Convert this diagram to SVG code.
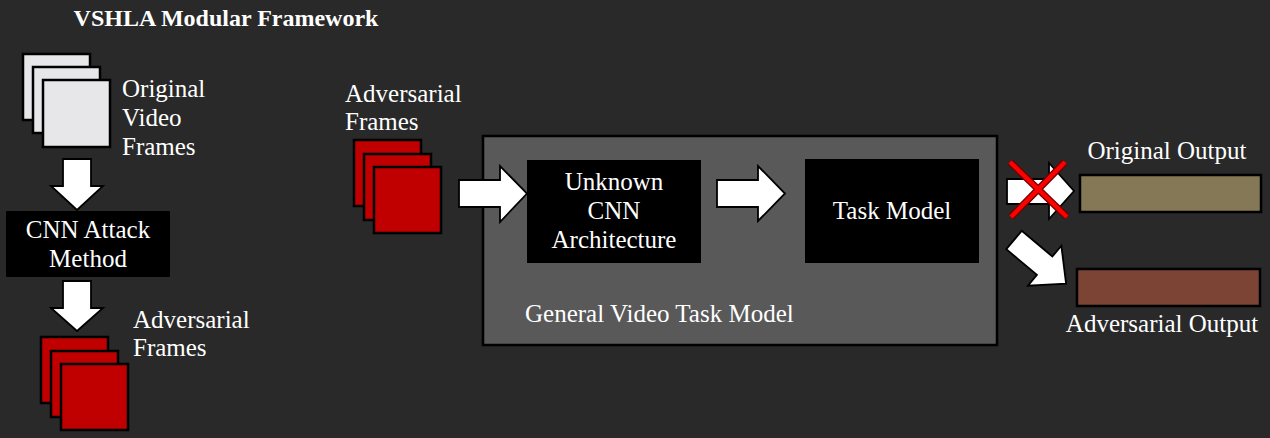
<svg xmlns="http://www.w3.org/2000/svg" width="1270" height="438" viewBox="0 0 1270 438">
<style>
text{font-family:"Liberation Serif","Times New Roman",serif;fill:#ffffff;font-size:25px}
.title{font-weight:bold;font-size:24px}
.white{fill:#e7e7e9;stroke:#000;stroke-width:2.5}
.red{fill:#c00000;stroke:#000;stroke-width:2.5}
.blk{fill:#000}
.arr{fill:#fff;stroke:#000;stroke-width:1.8;stroke-linejoin:miter}
.mid{text-anchor:middle}
</style>
<rect width="1270" height="438" fill="#292929"/>
<text id="title" class="title" x="226" y="26" text-anchor="middle">VSHLA Modular Framework</text>

<g id="original-frames">
<rect class="white" x="23" y="54" width="67" height="66"/>
<rect class="white" x="33" y="67" width="67" height="66"/>
<rect class="white" x="43" y="80" width="67" height="67"/>
<text x="122" y="97">Original</text>
<text x="122" y="126">Video</text>
<text x="122" y="155">Frames</text>
</g>

<g id="cnn-attack">
<rect class="blk" x="6" y="211" width="164" height="66"/>
<text class="mid" x="88" y="238">CNN Attack</text>
<text class="mid" x="88" y="267">Method</text>
</g>

<g id="adv-frames-left">
<rect class="red" x="41" y="337" width="67" height="66"/>
<rect class="red" x="51" y="351" width="67" height="66"/>
<rect class="red" x="61" y="364" width="67" height="66"/>
<text x="133" y="328">Adversarial</text>
<text x="133" y="356">Frames</text>
</g>

<g id="adv-frames-mid">
<rect class="red" x="354" y="140" width="67" height="66"/>
<rect class="red" x="364" y="154" width="67" height="66"/>
<rect class="red" x="374" y="167" width="67" height="66"/>
<text x="345" y="102">Adversarial</text>
<text x="345" y="130">Frames</text>
</g>

<g id="general-model">
<rect x="483" y="136" width="514" height="209" fill="#595959" stroke="#000" stroke-width="2.5"/>
<text x="525" y="322">General Video Task Model</text>
</g>

<g id="unknown-cnn">
<rect class="blk" x="527" y="160" width="174" height="103"/>
<text class="mid" x="614" y="190">Unknown</text>
<text class="mid" x="614" y="219">CNN</text>
<text class="mid" x="614" y="248">Architecture</text>
</g>

<g id="task-model">
<rect class="blk" x="805" y="159" width="174" height="104"/>
<text class="mid" x="892" y="219">Task Model</text>
</g>

<g id="original-output">
<rect x="1080" y="175" width="181" height="37" fill="#847856" stroke="#000" stroke-width="2.5"/>
<text class="mid" x="1167" y="159">Original Output</text>
</g>

<g id="adversarial-output">
<rect x="1077" y="269" width="183" height="37" fill="#7b4434" stroke="#000" stroke-width="2.5"/>
<text class="mid" x="1162" y="332">Adversarial Output</text>
</g>

<g id="connectors">
<polygon class="arr" points="63,159 91,159 91,186 103,186 77,210 51,186 63,186"/>
<polygon class="arr" points="63,281 91,281 91,308 103,308 77,331 51,308 63,308"/>
<polygon class="arr" points="459,180 500,180 500,166 527,193.5 500,222 500,207 459,207"/>
<polygon class="arr" points="717,180 758,180 758,166 785,193.5 758,221 758,207 717,207"/>
<polygon class="arr" points="1007,179 1049,179 1049,163 1074,191 1049,219 1049,204 1007,204"/>
<polygon class="arr" transform="translate(1014,240) rotate(40)" points="0,-12 40,-12 40,-26 68,0 40,26 40,12 0,12"/>
<g stroke-linecap="butt">
<line x1="1010" y1="162" x2="1067" y2="217" stroke="#6e0000" stroke-width="7"/>
<line x1="1065" y1="162" x2="1011" y2="217" stroke="#6e0000" stroke-width="7"/>
<line x1="1010" y1="162" x2="1067" y2="217" stroke="#ff0000" stroke-width="4.5"/>
<line x1="1065" y1="162" x2="1011" y2="217" stroke="#ff0000" stroke-width="4.5"/>
</g>
</g>
</svg>
